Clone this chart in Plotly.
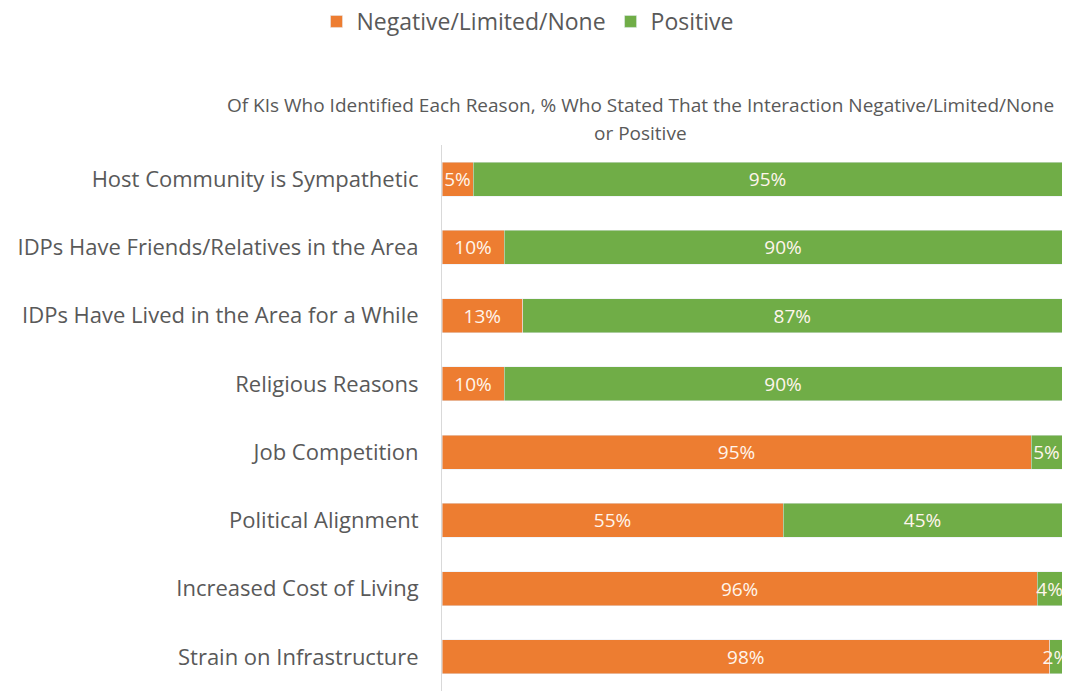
import plotly.graph_objects as go

reasons = [
    "Host Community is Sympathetic",
    "IDPs Have Friends/Relatives in the Area",
    "IDPs Have Lived in the Area for a While",
    "Religious Reasons",
    "Job Competition",
    "Political Alignment",
    "Increased Cost of Living",
    "Strain on Infrastructure",
]
negative = [5, 10, 13, 10, 95, 55, 96, 98]
positive = [95, 90, 87, 90, 5, 45, 4, 2]

title_lines = [
    "Of KIs Who Identified Each Reason, % Who Stated That the Interaction Negative/Limited/None",
    "or Positive",
]

ORANGE = "#ED7D31"
GREEN = "#70AD47"
GREY = "#595959"
LABEL = "#FFF5EC"

fig = go.Figure()

fig.add_trace(go.Bar(
    y=reasons, x=negative, orientation="h",
    name="Negative/Limited/None",
    marker=dict(color=ORANGE),
    text=[f"{v}%" for v in negative],
    textposition="inside", insidetextanchor="middle", textangle=0,
    textfont=dict(color=LABEL, size=19),
    hoverinfo="x+y",
))
fig.add_trace(go.Bar(
    y=reasons, x=positive, orientation="h",
    name="Positive",
    marker=dict(color=GREEN),
    text=[f"{v}%" for v in positive],
    textposition="inside", insidetextanchor="middle", textangle=0,
    textfont=dict(color=LABEL, size=19),
    hoverinfo="x+y",
))

# Chart title, two lines, between the legend and the bars
for line, ypos in zip(title_lines, [1.073, 1.022]):
    fig.add_annotation(
        text=line, xref="paper", yref="paper", x=0.32, y=ypos,
        xanchor="center", yanchor="middle", showarrow=False,
        font=dict(size=19, color=GREY, family="Open Sans"),
    )

fig.update_layout(
    barmode="stack",
    bargap=0.5,
    width=1070, height=691,
    margin=dict(l=442, r=8, t=145, b=0, autoexpand=False),
    paper_bgcolor="white",
    plot_bgcolor="white",
    font=dict(family="Open Sans", color=GREY, size=18),
    uniformtext=dict(minsize=19, mode="show"),
    legend=dict(
        orientation="h", x=0.493, xref="container", xanchor="center",
        y=1.0, yref="container", yanchor="top",
        font=dict(size=23, color=GREY),
        traceorder="normal", itemwidth=30,
    ),
    xaxis=dict(range=[0, 100], visible=False, fixedrange=True),
    yaxis=dict(
        autorange="reversed",
        showline=True, linecolor="#D9D9D9", linewidth=1,
        showgrid=False, ticks="", ticklabelstandoff=18,
        tickfont=dict(size=22, color=GREY),
    ),
    showlegend=True,
)

# drop the browser's default body margin so the figure sits at the page corner
fig.write_html(
    "out.html",
    config={"displayModeBar": False},
    post_script="document.body.style.margin='0';",
)
